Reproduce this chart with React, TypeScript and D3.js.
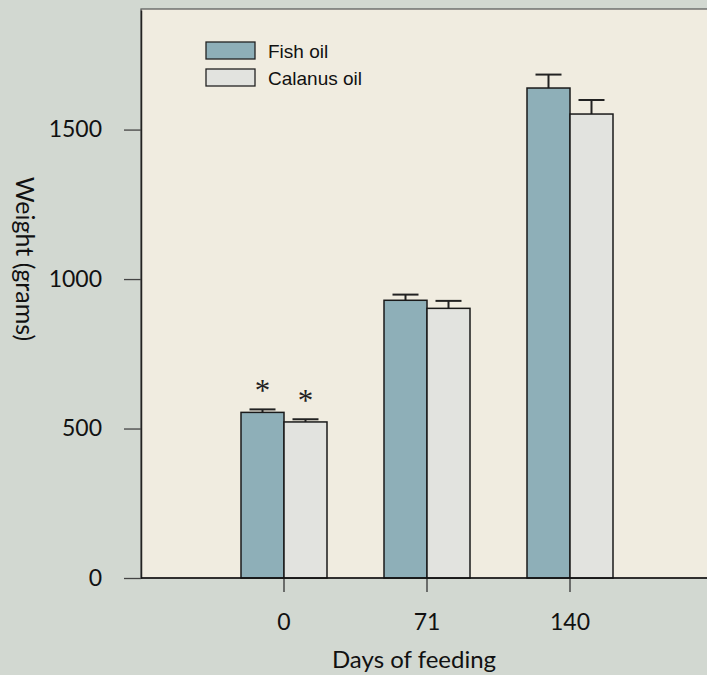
import { useEffect, useRef } from "react";
import * as d3 from "d3";

// chart data
const days = ["0", "71", "140"];
const series = ["Fish oil", "Calanus oil"];
const fishOil = [554, 929, 1639];
const fishOilErr = [10, 19, 45];
const calanusOil = [522, 902, 1552];
const calanusOilErr = [9, 25, 47];
const significant = [true, false, false];
const yTicks = [0, 500, 1000, 1500];

const W = 707;
const H = 675;
const margin = { top: 9, left: 141, bottom: 97 };
const colors = ["#8eafb8", "#e2e3df"];
const labelFont = "Lato, 'Open Sans', sans-serif";

function drawChart(el: SVGSVGElement) {
  const svg = d3.select(el);
  svg.selectAll("*").remove();

  svg.append("rect").attr("width", W).attr("height", H).attr("fill", "#d2d8d1");

  const plotBottom = H - margin.bottom;
  const step = 143;

  const x = d3
    .scaleBand()
    .domain(days)
    .range([margin.left + step / 2, margin.left + step / 2 + step * days.length])
    .paddingInner(0);
  const xSub = d3.scaleBand().domain(series).range([-43, 43]);
  const y = d3.scaleLinear().domain([0, 1900]).range([plotBottom, margin.top + 1]);

  // plot area
  svg
    .append("rect")
    .attr("x", margin.left)
    .attr("y", margin.top)
    .attr("width", W - margin.left + 20)
    .attr("height", plotBottom - margin.top)
    .attr("fill", "#f0ece0")
    .attr("stroke", "#555")
    .attr("stroke-width", 1.2);

  // y axis
  const yAxis = svg
    .append("g")
    .attr("transform", "translate(" + margin.left + ",0)")
    .call(
      d3
        .axisLeft(y)
        .tickValues(yTicks)
        .tickFormat(d3.format("d"))
        .tickSize(17)
        .tickSizeOuter(0)
        .tickPadding(22)
    );
  yAxis.select(".domain").attr("stroke", "#222").attr("stroke-width", 1.5);
  yAxis.selectAll("line").attr("stroke", "#444").attr("stroke-width", 1.3);
  yAxis
    .selectAll("text")
    .attr("fill", "#111")
    .style("font-family", labelFont)
    .style("font-size", "23px");

  // bars
  const seriesData = [
    { name: series[0], values: fishOil, errs: fishOilErr, color: colors[0] },
    { name: series[1], values: calanusOil, errs: calanusOilErr, color: colors[1] },
  ];

  seriesData.forEach((s) => {
    const g = svg.append("g");
    days.forEach((d, i) => {
      const cx = x(d)! + x.bandwidth() / 2;
      const bx = cx + xSub(s.name)!;
      const bw = xSub.bandwidth();
      const top = y(s.values[i]);
      const capY = y(s.values[i] + s.errs[i]);
      const mid = bx + bw / 2;

      g.append("line")
        .attr("x1", mid)
        .attr("x2", mid)
        .attr("y1", top)
        .attr("y2", capY)
        .attr("stroke", "#222")
        .attr("stroke-width", 2);
      g.append("line")
        .attr("x1", mid - 13)
        .attr("x2", mid + 13)
        .attr("y1", capY)
        .attr("y2", capY)
        .attr("stroke", "#222")
        .attr("stroke-width", 2);

      g.append("rect")
        .attr("x", bx)
        .attr("y", top)
        .attr("width", bw)
        .attr("height", plotBottom - top)
        .attr("fill", s.color)
        .attr("stroke", "#1a1a1a")
        .attr("stroke-width", 1.5);

      if (significant[i]) {
        g.append("text")
          .attr("x", mid)
          .attr("y", capY - 8)
          .attr("text-anchor", "middle")
          .style("font-family", "'Liberation Serif', 'DejaVu Serif', serif")
          .style("font-size", "31px")
          .attr("fill", "#222")
          .text("*");
      }
    });
  });

  // x axis
  const xAxis = svg
    .append("g")
    .attr("transform", "translate(0," + plotBottom + ")")
    .call(d3.axisBottom(x).tickSize(14).tickPadding(22).tickSizeOuter(0));
  xAxis.select(".domain").remove();
  xAxis.selectAll("line").attr("stroke", "#333").attr("stroke-width", 1.3);
  xAxis
    .selectAll("text")
    .attr("fill", "#111")
    .style("font-family", labelFont)
    .style("font-size", "23px");
  xAxis
    .append("line")
    .attr("x1", margin.left)
    .attr("x2", W)
    .attr("stroke", "#111")
    .attr("stroke-width", 1.5);

  // axis titles
  svg
    .append("text")
    .attr("x", 414)
    .attr("y", 668)
    .attr("text-anchor", "middle")
    .style("font-family", labelFont)
    .style("font-size", "24px")
    .attr("fill", "#111")
    .text("Days of feeding");

  svg
    .append("text")
    .attr("transform", "translate(16,259)rotate(90)")
    .attr("text-anchor", "middle")
    .style("font-family", labelFont)
    .style("font-size", "25px")
    .attr("fill", "#111")
    .text("Weight (grams)");

  // legend
  const legend = svg.append("g").attr("transform", "translate(206,42)");
  series.forEach((name, i) => {
    legend
      .append("rect")
      .attr("x", 0)
      .attr("y", i * 27)
      .attr("width", 49)
      .attr("height", 17)
      .attr("fill", colors[i])
      .attr("stroke", "#222")
      .attr("stroke-width", 1.3);
    legend
      .append("text")
      .attr("x", 62)
      .attr("y", i * 27 + 15.5)
      .style("font-family", "'Liberation Sans', Arial, sans-serif")
      .style("font-size", "19px")
      .attr("fill", "#111")
      .text(name);
  });
}

export default function App() {
  const ref = useRef<SVGSVGElement>(null);

  useEffect(() => {
    if (ref.current) drawChart(ref.current);
  }, []);

  return (
    <svg
      ref={ref}
      width={W}
      height={H}
      style={{ position: "absolute", left: 0, top: 0, display: "block" }}
    ></svg>
  );
}
